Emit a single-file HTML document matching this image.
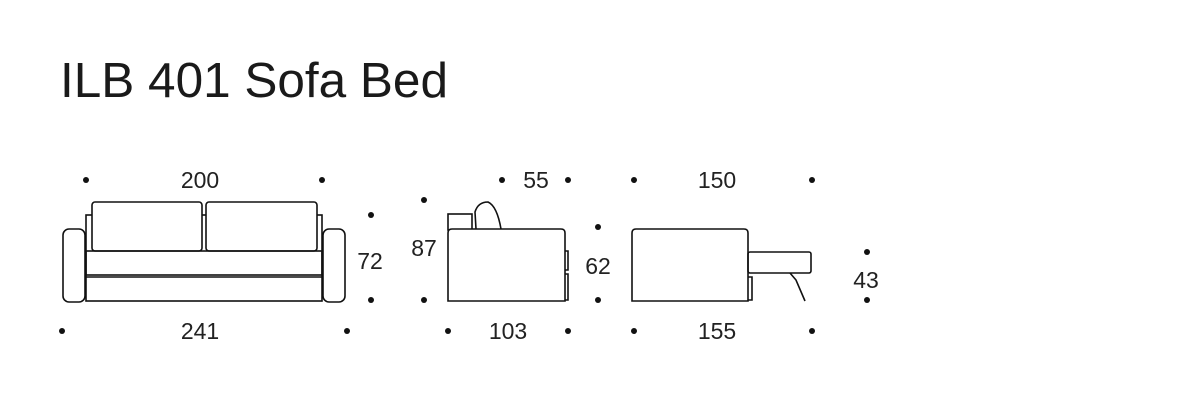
<!DOCTYPE html>
<html><head><style>
body{margin:0;width:1182px;height:414px;background:#fff;overflow:hidden;font-family:"Liberation Sans",sans-serif}
</style></head><body>
<svg width="1182" height="414" xmlns="http://www.w3.org/2000/svg" font-family="Liberation Sans, sans-serif" fill="none" stroke="#111" stroke-width="1.6">
<text x="60" y="97" font-size="49" fill="#1a1a1a" stroke="none" textLength="388" lengthAdjust="spacingAndGlyphs">ILB 401 Sofa Bed</text>
<g fill="#111" stroke="none">
<circle cx="86" cy="180" r="3"/><circle cx="322" cy="180" r="3"/>
<circle cx="502" cy="180" r="3"/><circle cx="568" cy="180" r="3"/>
<circle cx="634" cy="180" r="3"/><circle cx="812" cy="180" r="3"/>
<circle cx="62" cy="331" r="3"/><circle cx="347" cy="331" r="3"/>
<circle cx="448" cy="331" r="3"/><circle cx="568" cy="331" r="3"/>
<circle cx="634" cy="331" r="3"/><circle cx="812" cy="331" r="3"/>
<circle cx="371" cy="215" r="3"/><circle cx="371" cy="300" r="3"/>
<circle cx="424" cy="200" r="3"/><circle cx="424" cy="300" r="3"/>
<circle cx="598" cy="227" r="3"/><circle cx="598" cy="300" r="3"/>
<circle cx="867" cy="252" r="3"/><circle cx="867" cy="300" r="3"/>
</g>
<g font-size="23" fill="#222" stroke="none" text-anchor="middle">
<text x="200" y="188">200</text><text x="536" y="188">55</text><text x="717" y="188">150</text>
<text x="200" y="339">241</text><text x="508" y="339">103</text><text x="717" y="339">155</text>
<text x="370" y="269">72</text><text x="424" y="256">87</text><text x="598" y="274">62</text><text x="866" y="288">43</text>
</g>
<rect x="86" y="215" width="236" height="86"/>
<rect x="92" y="202" width="110" height="49" rx="3" fill="#fff"/>
<rect x="206" y="202" width="111" height="49" rx="3" fill="#fff"/>
<rect x="86" y="251" width="236" height="24"/>
<line x1="86" y1="277" x2="322" y2="277"/>
<rect x="63" y="229" width="22" height="73" rx="6"/>
<rect x="323" y="229" width="22" height="73" rx="6"/>
<rect x="448" y="214" width="24" height="16"/>
<path d="M476 229 L475 212 Q478 202 488 202 Q497 206 501 229"/>
<path d="M448 301 V233 Q448 229 452 229 H561 Q565 229 565 233 V301 Z" fill="#fff"/>
<path d="M565 251 H568 V270 H565 M565 274 H568 V300 H565"/>
<path d="M632 301 V233 Q632 229 636 229 H744 Q748 229 748 233 V301 Z" fill="#fff"/>
<rect x="748" y="252" width="63" height="21" rx="2"/>
<path d="M748 277 H752 V300 H748"/>
<path d="M790 273 L796 280 L805 301"/>
</svg>
</body></html>
